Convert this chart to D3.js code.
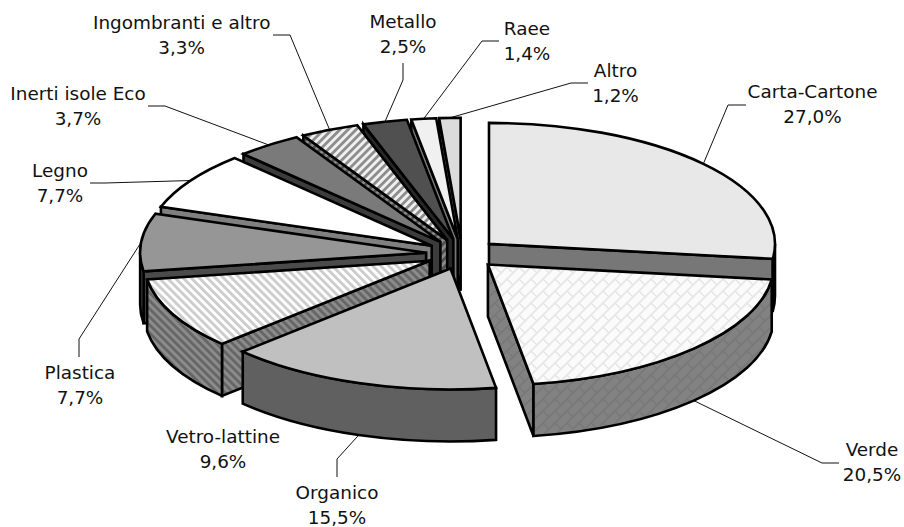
<!DOCTYPE html>
<html>
<head>
<meta charset="utf-8">
<script src="https://cdn.jsdelivr.net/npm/d3@7"></script>
<style>
  html, body { margin: 0; padding: 0; background: #fff; }
  text { font-family: "DejaVu Sans", Verdana, sans-serif; font-size: 18.4px; fill: #111; }
</style>
</head>
<body>
<svg id="chart" width="904" height="527"></svg>
<script>
// values
const categories = ["Carta-Cartone", "Verde", "Organico", "Vetro-lattine", "Plastica", "Legno",
    "Inerti isole Eco", "Ingombranti e altro", "Metallo", "Raee", "Altro"];
const percentages = [27.0, 20.5, 15.5, 9.6, 7.7, 7.7, 3.7, 3.3, 2.5, 1.4, 1.2];

// fills: top face / wall face
const topFills = ["#e8e8e8", "url(#weaveTop)", "#c0c0c0", "url(#stripeTop)", "#969696", "#ffffff",
    "#7a7a7a", "url(#hatchTop)", "#505050", "#f0f0f0", "#dcdcdc"];
const wallFills = ["#777777", "url(#weaveWall)", "#606060", "url(#stripeWall)", "#4b4b4b", "#808080",
    "#3c3c3c", "url(#hatchWall)", "#282828", "#787878", "#6e6e6e"];

// label layout: text centre, baseline of first line, elbow of the leader
const labelX = [812.5, 872, 337, 223, 80, 60, 78, 181.7, 403, 527, 615.5];
const labelY = [98, 456, 499, 443, 379, 177, 100, 29, 28, 35, 77];
const leaderStart = [[746, 105], [839, 463], [337, 477], null, [79, 357], [90, 183], [148, 106], [273, 35], [403, 63], [499, 41], [588, 83]];
const leaderElbow = [[728, 105], [822, 463], [337, 459], null, [79, 339], [105, 183], [165, 106], [290, 35], [403, 80], [482, 41], [571, 83]];

// back slices first, front ones last
const drawOrder = [10, 9, 8, 7, 6, 5, 4, 3, 0, 1, 2];

const rx = 286, ry = 121, depth = 52, explode = 36;
const centerX = 462, centerY = 254;

const svg = d3.select("#chart");
const defs = svg.append("defs");

function addStripes(id, back, front, angle) {
    const p = defs.append("pattern").attr("id", id)
        .attr("patternUnits", "userSpaceOnUse")
        .attr("width", 5.7).attr("height", 5.7)
        .attr("patternTransform", "rotate(" + angle + ")");
    p.append("rect").attr("width", 5.7).attr("height", 5.7).attr("fill", back);
    p.append("rect").attr("width", 2.8).attr("height", 5.7).attr("fill", front);
}
function addWeave(id, back, front) {
    const p = defs.append("pattern").attr("id", id)
        .attr("patternUnits", "userSpaceOnUse")
        .attr("width", 12).attr("height", 12);
    p.append("rect").attr("width", 12).attr("height", 12).attr("fill", back);
    p.append("path")
        .attr("d", "M-1 7L7 -1M5 13L13 5M3 3L9 9")
        .attr("fill", "none").attr("stroke", front).attr("stroke-width", 1.6);
}
addStripes("stripeTop", "#ffffff", "#cccccc", -45);
addStripes("stripeWall", "#8c8c8c", "#666666", -45);
addStripes("hatchTop", "#f0f0f0", "#8c8c8c", 45);
addStripes("hatchWall", "#8a8a8a", "#505050", 45);
addWeave("weaveTop", "#fbfbfb", "#e6e6e6");
addWeave("weaveWall", "#828282", "#787878");

const pie = d3.pie().sort(null).value(d => d);
const rad = Math.PI / 180;
const arcs = pie(percentages);

function project(angle, cx, cy, r = 1) {
    return [cx + r * rx * Math.sin(angle), cy - r * ry * Math.cos(angle)];
}
function arcTo(p, large, sweep) {
    return "A" + rx + " " + ry + " 0 " + large + " " + sweep + " " + p[0] + " " + p[1];
}

const slices = arcs.map(a => {
    const mid = (a.startAngle + a.endAngle) / 2;
    const [cx, cy] = project(mid, centerX, centerY, explode / rx);
    // the vertical shift follows the same ellipse as the pie itself
    return {start: a.startAngle, end: a.endAngle, mid, cx, cy};
});

function radialWall(s, angle) {
    const p = project(angle, s.cx, s.cy);
    return "M" + s.cx + " " + s.cy + "L" + p[0] + " " + p[1] +
        "L" + p[0] + " " + (p[1] + depth) + "L" + s.cx + " " + (s.cy + depth) + "Z";
}
function outerWall(s) {
    const a0 = Math.max(s.start, 90 * rad), a1 = Math.min(s.end, 270 * rad);
    if (a0 >= a1) return null;
    const p0 = project(a0, s.cx, s.cy), p1 = project(a1, s.cx, s.cy);
    const large = a1 - a0 > Math.PI ? 1 : 0;
    return "M" + p0[0] + " " + p0[1] + arcTo(p1, large, 1) +
        "L" + p1[0] + " " + (p1[1] + depth) +
        arcTo([p0[0], p0[1] + depth], large, 0) + "Z";
}
function topFace(s) {
    const p0 = project(s.start, s.cx, s.cy), p1 = project(s.end, s.cx, s.cy);
    const large = s.end - s.start > Math.PI ? 1 : 0;
    return "M" + s.cx + " " + s.cy + "L" + p0[0] + " " + p0[1] + arcTo(p1, large, 1) + "Z";
}

// leaders go under the pie
const leaderLine = d3.line();
const leaders = svg.append("g").attr("fill", "none").attr("stroke", "#111").attr("stroke-width", 1);
slices.forEach((s, i) => {
    if (!leaderStart[i]) return;
    let anchor = project(s.mid, s.cx, s.cy);
    if (Math.cos(s.mid) < 0) anchor[1] += depth; // front slices: lower rim
    leaders.append("path").attr("d", leaderLine([leaderStart[i], leaderElbow[i], anchor]));
});

const pieGroup = svg.append("g")
    .attr("stroke", "#000").attr("stroke-width", 2.6).attr("stroke-linejoin", "miter");

drawOrder.forEach(i => {
    const s = slices[i];
    const g = pieGroup.append("g").attr("class", "slice");
    if (Math.sin(s.start) < 0) g.append("path").attr("d", radialWall(s, s.start)).attr("fill", wallFills[i]);
    if (Math.sin(s.end) > 0) g.append("path").attr("d", radialWall(s, s.end)).attr("fill", wallFills[i]);
    const w = outerWall(s);
    if (w) g.append("path").attr("d", w).attr("fill", wallFills[i]);
    g.append("path").attr("d", topFace(s)).attr("fill", topFills[i]);
});

const fmt = v => v.toFixed(1).replace(".", ",") + "%";
const labels = svg.append("g").attr("text-anchor", "middle");
categories.forEach((c, i) => {
    labels.append("text").attr("x", labelX[i]).attr("y", labelY[i]).text(c);
    labels.append("text").attr("x", labelX[i]).attr("y", labelY[i] + 25).text(fmt(percentages[i]));
});
</script>
</body>
</html>
